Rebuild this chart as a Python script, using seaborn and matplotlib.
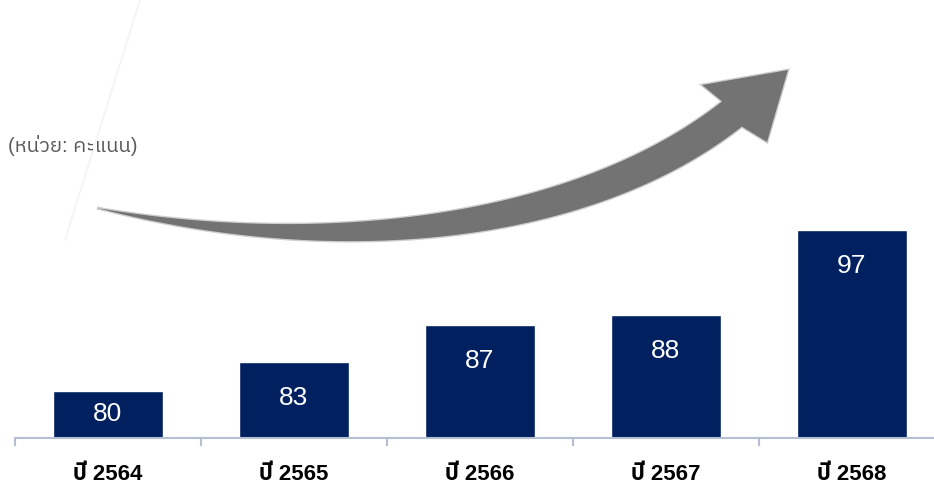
import numpy as np
import pandas as pd
import matplotlib
matplotlib.use("Agg")
import matplotlib.pyplot as plt
from matplotlib.patches import Polygon
from matplotlib.lines import Line2D
import seaborn as sns

# ---- data ----
categories = ["ปี 2564", "ปี 2565", "ปี 2566", "ปี 2567", "ปี 2568"]
scores = [80, 83, 87, 88, 97]
unit_label = "(หน่วย: คะแนน)"

BAR_COLOR = "#002060"
AXIS_COLOR = "#b4c0d2"
FONT = ["Liberation Sans", "IBM Plex Sans Thai"]

sns.set_style("white")
plt.rcParams["font.family"] = FONT

W, H = 934, 484
fig = plt.figure(figsize=(W / 100, H / 100), dpi=100)
fig.patch.set_facecolor("white")

# axes extends slightly past the right edge, as in the reference
ax = fig.add_axes([15 / W, (H - 438) / H, 930 / W, 438 / H])
ax.patch.set_alpha(0)

df = pd.DataFrame({"category": categories, "score": scores})
sns.barplot(data=df, x="category", y="score", color=BAR_COLOR, width=0.59,
            saturation=1, ax=ax, zorder=2)

ymin = 75
ax.set_ylim(ymin, ymin + 438 / 9.45)
ax.set_xlim(-0.5, len(categories) - 0.5)

for s in ["left", "top", "right"]:
    ax.spines[s].set_visible(False)
ax.spines["bottom"].set_color(AXIS_COLOR)
ax.spines["bottom"].set_linewidth(1.5)
ax.set_yticks([])
ax.set_xlabel("")
ax.set_ylabel("")

ax.set_xticks(range(len(categories)))
ax.set_xticklabels(categories, fontsize=16, fontweight="bold", color="black",
                   family=FONT)
ax.tick_params(axis="x", which="major", bottom=True, length=0, pad=19)
ax.set_xticks(np.arange(-0.5, len(categories), 1.0), minor=True)
ax.tick_params(axis="x", which="minor", bottom=True, length=5.8, width=1.5,
               color=AXIS_COLOR, direction="out")

# value labels inside bars
for i, v in enumerate(scores):
    y = max(v - 3.8, (v + ymin) / 2)
    ax.text(i, y, f"{v}", ha="center", va="center", color="white",
            fontsize=19, family=FONT, zorder=3)

# unit text
fig.text(8 / W, 1 - 146 / H, unit_label, ha="left", va="center",
         fontsize=14.6, color="#595959", family=FONT)


def fp(x, y):
    return (x / W, 1 - y / H)


# faint decorative line
fig.add_artist(Line2D([140 / W, 65 / W], [1, 1 - 240 / H],
                      transform=fig.transFigure, color="#f5f5f5", lw=1.5,
                      zorder=1))

# curved growth arrow
P0 = np.array([97, 208.0])
P1 = np.array([330, 258.0])
P2 = np.array([582, 232.0])
P3 = np.array([732, 114.0])
t = np.linspace(0, 1, 200)[:, None]
pts = ((1 - t) ** 3) * P0 + 3 * ((1 - t) ** 2) * t * P1 + 3 * (1 - t) * t ** 2 * P2 + t ** 3 * P3
der = 3 * ((1 - t) ** 2) * (P1 - P0) + 6 * (1 - t) * t * (P2 - P1) + 3 * t ** 2 * (P3 - P2)
tan = der / np.linalg.norm(der, axis=1, keepdims=True)
nrm = np.column_stack([tan[:, 1], -tan[:, 0]])
hw = 16 * (1 - (1 - t[:, 0]) ** 2)
upper = pts + nrm * hw[:, None]
lower = pts - nrm * hw[:, None]
head = np.array([[702, 85], [788, 70], [767, 142]], dtype=float)
outline = np.vstack([upper, head, lower[::-1]])
poly_pts = [fp(x, y) for x, y in outline]
fig.add_artist(Polygon(poly_pts, closed=True, transform=fig.transFigure,
                       facecolor="none", edgecolor="#737373", lw=2.0,
                       alpha=0.35, zorder=4))
fig.add_artist(Polygon(poly_pts, closed=True, transform=fig.transFigure,
                       facecolor="#737373", edgecolor="none", zorder=5))

fig.savefig("out.png", dpi=100, facecolor="white")
